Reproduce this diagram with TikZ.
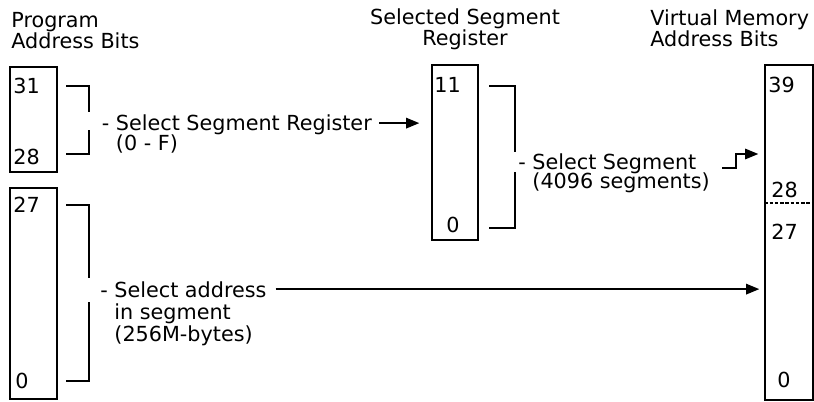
\documentclass[tikz,border=0pt]{standalone}
\usepackage{fontspec}
\setmainfont{DejaVu Sans}
\usetikzlibrary{arrows.meta}
\tikzset{
  bitbox/.style={draw,line width=0.8pt,inner sep=0},
  bitno/.style={anchor=west,inner sep=0,font=\fontsize{11.8}{14}\selectfont},
  lbl/.style={anchor=base west,inner sep=0,text depth=0pt,font=\fontsize{11.8}{14}\selectfont},
  hdr/.style={inner sep=0,font=\fontsize{11.8}{12}\selectfont},
  brk/.style={line width=0.8pt},
  arr/.style={line width=0.8pt,-{Triangle[length=7.5pt,width=6pt]}}
}
\begin{document}
\begin{tikzpicture}
\useasboundingbox (0,0) rectangle (16.28,8.02);
% headings
\node[hdr,anchor=base west,align=left] (hprog) at (0.22,7.04) {Program\\Address Bits};
\node[hdr,anchor=base,align=center] (hreg) at (9.3,7.1) {Selected Segment\\Register};
\node[hdr,anchor=base west,align=left] (hvm) at (13.0,7.08) {Virtual Memory\\Address Bits};
% bit boxes
\node[bitbox,minimum width=0.94cm,minimum height=2.1cm] (progA) at (0.67,5.63) {};
\node[bitbox,minimum width=0.94cm,minimum height=4.22cm] (progB) at (0.67,2.15) {};
\node[bitbox,minimum width=0.92cm,minimum height=3.5cm] (regbox) at (9.1,4.97) {};
\node[bitbox,minimum width=0.96cm,minimum height=6.7cm] (vmbox) at (15.78,3.37) {};
\draw[line width=0.6pt,dash pattern=on 2pt off 1pt] (vmbox.west |- 0,3.96) -- (vmbox.east |- 0,3.96);
\node[bitno] at (0.26,6.3) {31};
\node[bitno] at (0.26,4.88) {28};
\node[bitno] at (0.26,3.92) {27};
\node[bitno] at (0.3,0.4) {0};
\node[bitno] at (8.68,6.32) {11};
\node[bitno] at (8.92,3.52) {0};
\node[bitno] at (15.36,6.32) {39};
\node[bitno] at (15.42,4.22) {28};
\node[bitno] at (15.42,3.38) {27};
\node[bitno] at (15.54,0.42) {0};
% brackets
\draw[brk] (1.32,6.3) -| (1.78,5.78);
\draw[brk] (1.32,4.94) -| (1.78,5.42);
\draw[brk] (1.32,3.92) -| (1.78,2.46);
\draw[brk] (1.32,0.4) -| (1.78,1.98);
\draw[brk] (9.78,6.3) -| (10.3,4.98);
\draw[brk] (9.78,3.46) -| (10.3,4.58);
% labels
\node[lbl] (selreg) at (2.03,5.4) {- Select Segment Register};
\node[lbl] (selregr) at (2.03,5.0) {\hphantom{- }(0 - F)};
\node[lbl] (segsel) at (10.36,4.64) {- Select Segment};
\node[lbl] (segselr) at (10.36,4.24) {\hphantom{- }(4096 segments)};
\node[lbl] (seladdr) at (2.0,2.08) {- Select address};
\node[lbl] (seladdrb) at (2.0,1.64) {\hphantom{- }in segment};
\node[lbl] (seladdrr) at (2.0,1.2) {\hphantom{- }(256M-bytes)};
% arrows
\draw[arr,shorten <=4pt,shorten >=0.24cm] (selreg.east) -- (selreg.east -| regbox.west);
\coordinate (stepin) at (14.44,4.66);
\draw[arr,shorten >=0.12cm] (stepin) -- ++(0.28,0) |- (vmbox.west |- 0,4.94);
\draw[arr,shorten <=5pt,shorten >=0.1cm] (seladdr.east) -- (seladdr.east -| vmbox.west);
\end{tikzpicture}
\end{document}
